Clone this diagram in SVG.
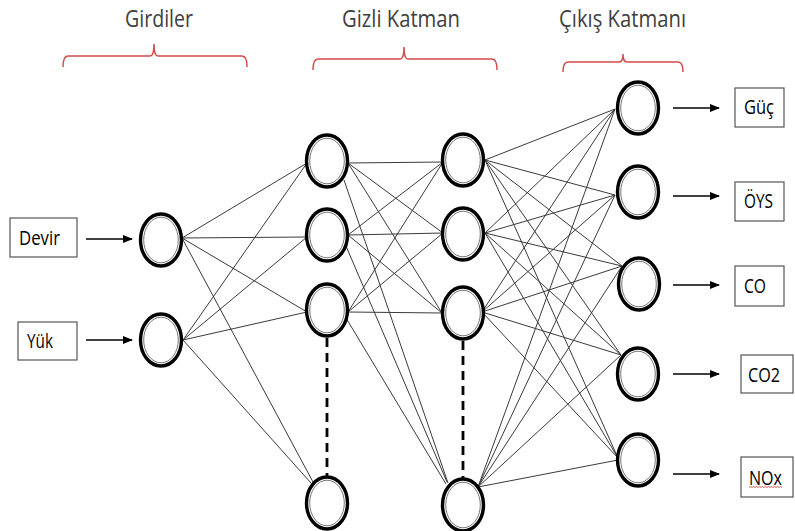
<svg xmlns="http://www.w3.org/2000/svg" width="795" height="531" viewBox="0 0 795 531">
<style>
.title{font-family:"Open Sans","Liberation Sans",sans-serif;font-size:23px;fill:#404040}
.lbl{font-family:"Open Sans","Liberation Sans",sans-serif;font-size:19.5px;fill:#000}
.box{fill:#fff;stroke:#555;stroke-width:1.2}
.brace{fill:none;stroke:#d24a4a;stroke-width:1.5}
.outer{fill:#fff;stroke:#000;stroke-width:3.4}
.inner{fill:none;stroke:#777;stroke-width:1}
.conn line{stroke:#3a3a3a;stroke-width:1}
.conn line.arr{stroke:#000;stroke-width:1.4;marker-end:url(#ah)}
.conn line.dash{stroke:#000;stroke-width:2.8;stroke-dasharray:9,6}
</style>
<defs>
<marker id="ah" markerWidth="10" markerHeight="8" refX="9" refY="4" orient="auto" markerUnits="userSpaceOnUse">
<path d="M0,0 L10,4 L0,8 z" fill="#000"/>
</marker>
<g id="nd"><ellipse class="outer" cx="0" cy="0" rx="20.5" ry="26"/><ellipse class="inner" cx="0" cy="0" rx="17.3" ry="22.8"/></g>
</defs>
<rect width="795" height="531" fill="#fff"/>

<!-- titles -->
<text class="title" x="125" y="27" textLength="68" lengthAdjust="spacingAndGlyphs">Girdiler</text>
<text class="title" x="342" y="27" textLength="118" lengthAdjust="spacingAndGlyphs">Gizli Katman</text>
<text class="title" x="559" y="27" textLength="127" lengthAdjust="spacingAndGlyphs">Çıkış Katmanı</text>

<!-- braces -->
<path class="brace" d="M63,67 Q63,56 68,56 L150,56 Q154,56 154,44 Q154,56 158,56 L242,56 Q247,56 247,67"/>
<path class="brace" d="M313,70 Q313,59 318,59 L400,59 Q404,59 404,47 Q404,59 408,59 L492,59 Q497,59 497,70"/>
<path class="brace" d="M563,72 Q563,62 568,62 L619,62 Q623,62 623,54 Q623,62 627,62 L678,62 Q683,62 683,72"/>

<!-- connectors -->
<g id="connectors" class="conn">
<!-- input to hidden1 -->
<line x1="182" y1="238" x2="307" y2="163"/>
<line x1="182" y1="238" x2="307" y2="237"/>
<line x1="182" y1="238" x2="307" y2="312"/>
<line x1="182" y1="238" x2="313" y2="482"/>
<line x1="183" y1="340" x2="307" y2="163"/>
<line x1="183" y1="340" x2="307" y2="237"/>
<line x1="183" y1="340" x2="307" y2="312"/>
<line x1="183" y1="340" x2="311" y2="483"/>
<!-- hidden1 to hidden2 -->
<line x1="348" y1="163" x2="443" y2="162"/>
<line x1="348" y1="163" x2="443" y2="233"/>
<line x1="348" y1="163" x2="442" y2="313"/>
<line x1="344" y1="180" x2="448" y2="483"/>
<line x1="348" y1="235" x2="443" y2="162"/>
<line x1="348" y1="235" x2="443" y2="233"/>
<line x1="348" y1="235" x2="442" y2="313"/>
<line x1="346" y1="246" x2="447" y2="482"/>
<line x1="348" y1="312" x2="443" y2="162"/>
<line x1="348" y1="312" x2="443" y2="233"/>
<line x1="348" y1="312" x2="442" y2="313"/>
<line x1="346" y1="318" x2="446" y2="484"/>
<!-- hidden2 to output -->
<line x1="485" y1="160" x2="615" y2="109"/>
<line x1="485" y1="160" x2="615" y2="195"/>
<line x1="485" y1="160" x2="622" y2="266"/>
<line x1="485" y1="160" x2="621" y2="355"/>
<line x1="485" y1="160" x2="618" y2="458"/>
<line x1="485" y1="233" x2="615" y2="109"/>
<line x1="485" y1="233" x2="615" y2="195"/>
<line x1="485" y1="233" x2="622" y2="266"/>
<line x1="485" y1="233" x2="621" y2="355"/>
<line x1="485" y1="233" x2="618" y2="458"/>
<line x1="482" y1="312" x2="615" y2="109"/>
<line x1="482" y1="312" x2="615" y2="195"/>
<line x1="482" y1="312" x2="622" y2="266"/>
<line x1="482" y1="312" x2="621" y2="355"/>
<line x1="482" y1="312" x2="618" y2="458"/>
<line x1="478" y1="487" x2="615" y2="109"/>
<line x1="478" y1="487" x2="615" y2="195"/>
<line x1="478" y1="487" x2="622" y2="266"/>
<line x1="478" y1="487" x2="621" y2="355"/>
<line x1="478" y1="487" x2="618" y2="460"/>
<!-- dashed continuations -->
<line class="dash" x1="327" y1="338" x2="327" y2="478"/>
<line class="dash" x1="463" y1="341" x2="463" y2="480"/>
<!-- io arrows -->
<line class="arr" x1="86" y1="239" x2="132" y2="239"/>
<line class="arr" x1="86" y1="340" x2="132" y2="340"/>
<line class="arr" x1="673" y1="108" x2="719" y2="108"/>
<line class="arr" x1="673" y1="196" x2="719" y2="196"/>
<line class="arr" x1="673" y1="285" x2="719" y2="285"/>
<line class="arr" x1="673" y1="374" x2="719" y2="374"/>
<line class="arr" x1="673" y1="474" x2="719" y2="474"/>
</g>

<!-- input boxes -->
<g id="in-devir"><rect class="box" x="10" y="218" width="67" height="39"/><text class="lbl" x="19" y="245" textLength="41" lengthAdjust="spacingAndGlyphs">Devir</text></g>
<g id="in-yuk"><rect class="box" x="18" y="322" width="59" height="38"/><text class="lbl" x="27" y="348" textLength="26" lengthAdjust="spacingAndGlyphs">Yük</text></g>

<!-- nodes -->
<g id="n-i1"><use href="#nd" x="161" y="240"/></g>
<g id="n-i2"><use href="#nd" x="161" y="340"/></g>
<g id="n-h1a"><use href="#nd" x="327" y="161"/></g>
<g id="n-h1b"><use href="#nd" x="327" y="235"/></g>
<g id="n-h1c"><use href="#nd" x="327" y="310"/></g>
<g id="n-h1d"><use href="#nd" x="327" y="503"/></g>
<g id="n-h2a"><use href="#nd" x="463" y="160"/></g>
<g id="n-h2b"><use href="#nd" x="463" y="234"/></g>
<g id="n-h2c"><use href="#nd" x="463" y="313"/></g>
<g id="n-h2d"><use href="#nd" x="463" y="505"/></g>
<g id="n-o1"><use href="#nd" x="638" y="108"/></g>
<g id="n-o2"><use href="#nd" x="638" y="192"/></g>
<g id="n-o3"><use href="#nd" x="639" y="284"/></g>
<g id="n-o4"><use href="#nd" x="638" y="374"/></g>
<g id="n-o5"><use href="#nd" x="638" y="460"/></g>

<!-- output boxes -->
<g id="out-guc"><rect class="box" x="735" y="88" width="49" height="39"/><text class="lbl" x="744" y="114" textLength="30" lengthAdjust="spacingAndGlyphs">Güç</text></g>
<g id="out-oys"><rect class="box" x="735" y="182" width="49" height="39"/><text class="lbl" x="744" y="208" textLength="29" lengthAdjust="spacingAndGlyphs">ÖYS</text></g>
<g id="out-co"><rect class="box" x="735" y="266" width="49" height="40"/><text class="lbl" x="744" y="293" textLength="22" lengthAdjust="spacingAndGlyphs">CO</text></g>
<g id="out-co2"><rect class="box" x="741" y="355" width="52" height="38"/><text class="lbl" x="748" y="382" textLength="32" lengthAdjust="spacingAndGlyphs">CO2</text></g>
<g id="out-nox"><rect class="box" x="741" y="457" width="52" height="40"/><text class="lbl" x="749" y="485" textLength="33" lengthAdjust="spacingAndGlyphs">NOx</text>
<path d="M749,487.5 l1.5,-1 1.5,1 1.5,-1 1.5,1 1.5,-1 1.5,1 1.5,-1 1.5,1 1.5,-1 1.5,1 1.5,-1 1.5,1 1.5,-1 1.5,1 1.5,-1 1.5,1 1.5,-1 1.5,1 1.5,-1 1.5,1 1.5,-1 1.5,1" fill="none" stroke="#d33" stroke-width="0.8"/></g>
</svg>
